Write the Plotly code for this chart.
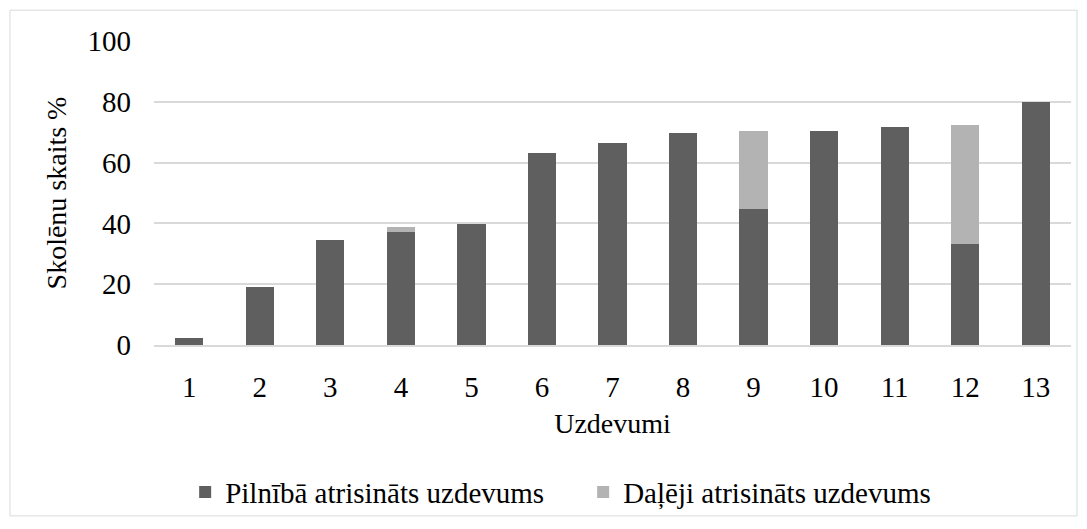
import plotly.graph_objects as go

categories = ["1", "2", "3", "4", "5", "6", "7", "8", "9", "10", "11", "12", "13"]
full_solved = [2.4, 19.0, 34.6, 37.1, 39.8, 63.3, 66.6, 69.9, 44.8, 70.5, 71.6, 33.1, 80.1]
partial_solved = [0, 0, 0, 1.6, 0, 0, 0, 0, 25.7, 0, 0, 39.2, 0]
y_ticks = [0, 20, 40, 60, 80, 100]

font_family = "Times New Roman, Liberation Serif, DejaVu Serif, serif"
fs_tick = 29
fs_title = 28
fs_legend = 29

fig = go.Figure()
fig.add_trace(go.Bar(x=categories, y=full_solved, name="Pilnībā atrisināts uzdevums",
                     marker=dict(color="#5f5f5f", line=dict(width=0))))
fig.add_trace(go.Bar(x=categories, y=partial_solved, name="Daļēji atrisināts uzdevums",
                     marker=dict(color="#b3b3b3", line=dict(width=0))))

fig.update_layout(
    width=1087, height=529,
    barmode="stack", bargap=0.6,
    paper_bgcolor="white", plot_bgcolor="white",
    margin=dict(l=154, r=16, t=41, b=182),
    font=dict(family=font_family, size=fs_tick, color="#000000"),
    showlegend=True,
    legend=dict(orientation="h", x=0.468, xanchor="center", y=-0.484, yanchor="middle",
                font=dict(family=font_family, size=fs_legend, color="#000000"),
                bgcolor="rgba(0,0,0,0)", itemwidth=30, traceorder="normal",
                entrywidth=353, entrywidthmode="pixels"),
    xaxis=dict(type="category", showgrid=False, showline=True, linecolor="#d9d9d9", linewidth=1.5,
               ticks="", tickfont=dict(family=font_family, size=fs_tick), ticklabelstandoff=15,
               title=dict(text="Uzdevumi", font=dict(family=font_family, size=fs_title), standoff=12)),
    yaxis=dict(range=[0, 100], tickvals=y_ticks, showgrid=True, gridcolor="#d9d9d9", gridwidth=1.5,
               zeroline=False, showline=False, ticks="", tickfont=dict(family=font_family, size=fs_tick),
               ticklabelstandoff=22,
               title=dict(text="Skolēnu skaits %", font=dict(family=font_family, size=fs_title), standoff=12)),
    shapes=[dict(type="rect", xref="paper", yref="paper",
                 x0=(10 - 154) / 917, x1=(1077 - 154) / 917,
                 y0=(347 - 519) / 306, y1=(347 - 10) / 306,
                 line=dict(color="#d9d9d9", width=1), fillcolor="rgba(0,0,0,0)", layer="below")],
)

fig.write_html("out.html", config={"displayModeBar": False},
               post_script="document.body.style.margin='0';")
